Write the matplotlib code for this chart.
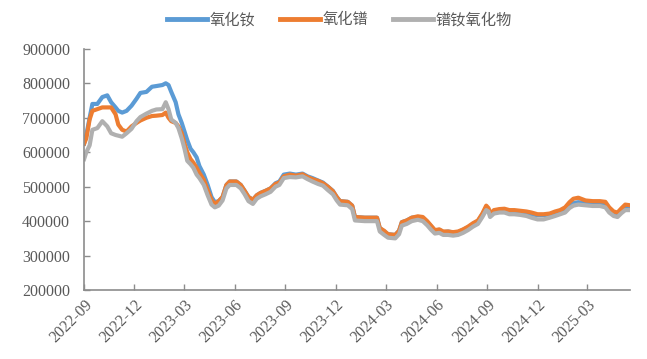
import matplotlib
matplotlib.use("Agg")
import matplotlib.pyplot as plt
import matplotlib.dates as mdates
import pandas as pd

dates = ["2022-09-01","2022-09-05","2022-09-11","2022-09-16","2022-09-25","2022-10-04","2022-10-13",
         "2022-10-20","2022-10-28","2022-11-02","2022-11-09","2022-11-17","2022-11-26","2022-12-05",
         "2022-12-12","2022-12-23","2023-01-02","2023-01-10","2023-01-21","2023-01-27","2023-02-01",
         "2023-02-06","2023-02-14","2023-02-19","2023-02-25","2023-03-02","2023-03-07","2023-03-13",
         "2023-03-18","2023-03-24","2023-03-29","2023-04-06","2023-04-13","2023-04-20","2023-04-26",
         "2023-05-03","2023-05-10","2023-05-17","2023-05-23","2023-06-04","2023-06-12","2023-06-19",
         "2023-06-26","2023-07-04","2023-07-11","2023-07-18","2023-07-27","2023-08-05","2023-08-14",
         "2023-08-21","2023-08-29","2023-09-09","2023-09-20","2023-10-02","2023-10-11","2023-10-20",
         "2023-10-30","2023-11-08","2023-11-17","2023-11-26","2023-12-03","2023-12-09","2023-12-23",
         "2023-12-31","2024-01-05","2024-01-23","2024-02-14","2024-02-19","2024-02-27","2024-03-05",
         "2024-03-18","2024-03-25","2024-03-30","2024-04-08","2024-04-17","2024-04-28","2024-05-07",
         "2024-05-15","2024-05-22","2024-05-29","2024-06-06","2024-06-13","2024-06-22","2024-07-01",
         "2024-07-10","2024-07-19","2024-07-28","2024-08-06","2024-08-15","2024-08-23","2024-08-30",
         "2024-09-03","2024-09-06","2024-09-13","2024-09-23","2024-10-02","2024-10-11","2024-10-20",
         "2024-10-31","2024-11-11","2024-11-20","2024-12-01","2024-12-12","2024-12-23","2025-01-02",
         "2025-01-11","2025-01-20","2025-01-28","2025-02-04","2025-02-13","2025-02-26","2025-03-11",
         "2025-03-24","2025-04-03","2025-04-10","2025-04-18","2025-04-25","2025-05-02","2025-05-09",
         "2025-05-18"]

nd_oxide = [625,650,700,740,740,760,765,745,730,720,715,720,735,755,772,775,790,792,795,800,795,
            775,745,710,685,660,635,610,600,585,560,535,505,470,455,458,470,505,515,515,505,488,
            470,462,475,482,488,495,510,515,535,538,535,538,530,525,518,512,500,488,470,458,456,
            445,412,410,410,380,370,362,360,372,397,402,410,412,410,398,385,372,375,368,370,367,
            368,375,382,392,400,420,440,435,420,430,433,432,428,428,427,425,420,417,417,420,425,
            428,435,445,452,455,452,450,450,448,435,422,420,430,440,440]

pr_oxide = [625,640,695,720,725,730,730,730,710,680,665,660,675,685,692,700,705,706,708,715,700,
            690,685,675,655,625,600,580,570,555,540,520,490,462,450,458,470,505,515,515,505,488,
            470,462,475,482,488,495,508,512,530,535,532,536,528,522,517,510,500,487,470,458,456,
            445,412,410,410,380,372,362,360,372,397,402,410,414,412,400,387,374,376,370,370,368,
            370,376,384,394,402,422,445,438,422,432,435,436,432,432,430,428,425,420,420,422,428,
            432,440,455,465,468,460,458,458,456,440,428,425,437,448,446]

prnd_oxide = [580,600,620,665,670,690,675,655,650,648,645,655,668,690,702,712,720,724,725,745,725,
              695,685,670,640,610,575,565,555,535,525,505,475,448,440,445,460,495,505,505,495,478,
              458,450,465,472,478,485,500,505,525,528,527,530,522,515,508,503,490,478,460,448,446,
              435,402,400,400,370,360,352,350,362,387,392,400,404,400,388,375,364,366,360,360,358,
              360,366,374,384,392,412,432,428,412,422,425,425,420,420,418,415,410,405,405,410,415,
              420,425,438,445,448,446,444,444,440,425,415,412,423,432,432]

series_names = ["氧化钕", "氧化镨", "镨钕氧化物"]
series_colors = ["#5B9BD5", "#ED7D31", "#B0B0B0"]
tick_dates = ["2022-09-01","2022-12-01","2023-03-01","2023-06-01","2023-09-01","2023-12-01",
              "2024-03-01","2024-06-01","2024-09-01","2024-12-01","2025-03-01"]

plt.rcParams["font.family"] = ["Liberation Serif", "Noto Sans CJK SC"]

x = pd.to_datetime(dates)
fig = plt.figure(figsize=(6.47, 3.59), dpi=100)
ax = fig.add_axes([0.130, 0.192, 0.844, 0.672])

for vals, name, col in zip([nd_oxide, pr_oxide, prnd_oxide], series_names, series_colors):
    ax.plot(x, [v * 1000 for v in vals], color=col, lw=3.0, label=name)

ax.set_ylim(200000, 900000)
ax.set_yticks(range(200000, 900001, 100000))
ax.set_xlim(pd.Timestamp("2022-09-01"), pd.Timestamp("2025-05-18"))
ax.set_xticks(pd.to_datetime(tick_dates))
ax.xaxis.set_major_formatter(mdates.DateFormatter("%Y-%m"))

for s in ["top", "right"]:
    ax.spines[s].set_visible(False)
for s in ["left", "bottom"]:
    ax.spines[s].set_color("#8C8C8C")
    ax.spines[s].set_linewidth(1.2)

ax.tick_params(axis="both", direction="in", length=4, color="#8C8C8C", width=1,
               labelcolor="#595959", labelsize=11.5)
ax.tick_params(axis="y", pad=10)
ax.tick_params(axis="x", pad=5)
plt.setp(ax.get_xticklabels(), rotation=45, ha="right", rotation_mode="anchor")

leg = fig.legend(loc="center", bbox_to_anchor=(0.525, 0.945), ncol=3, frameon=False,
                 prop={"family": ["Noto Sans CJK SC", "DejaVu Sans"], "size": 11},
                 handlelength=2.6, handletextpad=0.2, columnspacing=1.6)
for t in leg.get_texts():
    t.set_color("#595959")
for h in leg.get_lines():
    h.set_linewidth(3.5)

fig.savefig("out.png", dpi=100)
